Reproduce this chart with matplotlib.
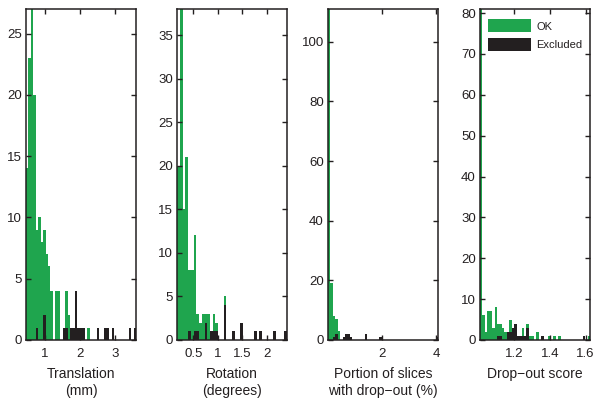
import matplotlib
matplotlib.use('Agg')
import matplotlib.pyplot as plt
import numpy as np

plt.rcParams['font.family'] = ['Liberation Sans', 'DejaVu Sans']

GREEN = '#1fa54e'
BLACK = '#231f20'

# ---- data: histogram counts (all subjects = green, excluded = black overlay) ----
# Translation (mm): 45 bins over data range
trans_range = (0.457, 3.60)
trans_all = [14, 23, 27, 20, 9, 10, 8, 9, 7, 6, 4, 0, 4, 4, 0, 1, 4, 2, 1, 1, 4, 1, 1, 1, 0,
             1, 0, 0, 0, 1, 0, 0, 1, 1, 0, 1, 0, 0, 0, 0, 0, 0, 1, 0, 1]
trans_excl = [0, 0, 0, 0, 1, 0, 0, 2, 0, 0, 0, 0, 0, 0, 0, 1, 1, 0, 1, 1, 4, 1, 1, 1, 0,
              0, 0, 0, 0, 1, 0, 0, 1, 1, 0, 1, 0, 0, 0, 0, 0, 0, 1, 0, 1]
trans_xticks = [1, 2, 3]
trans_yticks = [0, 5, 10, 15, 20, 25]

# Rotation (degrees): 40 bins
rot_range = (0.167, 2.414)
rot_all = [20, 38, 15, 21, 8, 8, 12, 3, 2, 3, 3, 3, 1, 3, 2, 0, 0, 5, 0, 0,
           1, 0, 0, 2, 0, 0, 0, 0, 1, 0, 1, 0, 0, 0, 0, 1, 0, 0, 0, 1]
rot_excl = [0, 0, 0, 0, 1, 0, 1, 1, 0, 0, 2, 0, 1, 1, 1, 0, 0, 4, 0, 0,
            1, 0, 0, 2, 0, 0, 0, 0, 1, 0, 1, 0, 0, 0, 0, 1, 0, 0, 0, 1]
rot_xticks = [0.5, 1, 1.5, 2]
rot_yticks = [0, 5, 10, 15, 20, 25, 30, 35]

# Portion of slices with drop-out (%): 45 bins
drop_range = (0.015, 4.06)
drop_all = [111, 19, 8, 7, 3, 0, 1, 2, 2, 1, 0, 0, 0, 0, 0, 2, 0, 0, 0, 0, 0, 1, 0,
            0, 0, 0, 0, 0, 0, 0, 0, 0, 0, 0, 0, 0, 0, 0, 0, 0, 0, 0, 0, 0, 1]
drop_excl = [0, 0, 1, 2, 0, 0, 1, 2, 2, 1, 0, 0, 0, 0, 0, 2, 0, 0, 0, 0, 0, 1, 0,
             0, 0, 0, 0, 0, 0, 0, 0, 0, 0, 0, 0, 0, 0, 0, 0, 0, 0, 0, 0, 0, 1]
drop_xticks = [2, 4]
drop_yticks = [0, 20, 40, 60, 80, 100]

# Drop-out score: 45 bins
score_range = (1.011, 1.624)
score_all = [81, 6, 2, 7, 7, 3, 8, 4, 4, 3, 2, 2, 5, 3, 4, 1, 1, 3, 1, 4, 1, 1, 0,
             2, 0, 1, 0, 0, 1, 0, 1, 0, 1, 0, 0, 0, 0, 0, 0, 0, 0, 0, 1, 0, 1]
score_excl = [0, 0, 0, 0, 0, 0, 0, 1, 1, 0, 0, 2, 2, 3, 4, 1, 1, 1, 1, 3, 0, 0, 0,
              0, 0, 1, 0, 0, 0, 0, 0, 0, 0, 0, 0, 0, 0, 0, 0, 0, 0, 0, 1, 0, 0]
score_xticks = [1.2, 1.4, 1.6]
score_yticks = [0, 10, 20, 30, 40, 50, 60, 70, 80]

xlabels = ['Translation\n(mm)', 'Rotation\n(degrees)',
           'Portion of slices\nwith drop\u2212out (%)', 'Drop\u2212out score']
legend_labels = ['OK', 'Excluded']

panels = [
    (trans_range, trans_all, trans_excl, trans_xticks, trans_yticks),
    (rot_range, rot_all, rot_excl, rot_xticks, rot_yticks),
    (drop_range, drop_all, drop_excl, drop_xticks, drop_yticks),
    (score_range, score_all, score_excl, score_xticks, score_yticks),
]

W, H = 600, 403
fig = plt.figure(figsize=(W / 100, H / 100), dpi=100)
lefts_px = [26, 177, 328, 480]
ax_w, ax_top, ax_bot = 110, 9, 340

for i, (rng, allc, exc, xt, yt) in enumerate(panels):
    ax = fig.add_axes([lefts_px[i] / W, (H - ax_bot) / H, ax_w / W, (ax_bot - ax_top) / H])
    edges = np.linspace(rng[0], rng[1], len(allc) + 1)
    ax.stairs(allc, edges, fill=True, color=GREEN, linewidth=0, label=legend_labels[0])
    ax.stairs(exc, edges, fill=True, color=BLACK, linewidth=0, label=legend_labels[1])
    ax.set_xlim(rng[0], rng[1])
    ax.set_ylim(0, max(allc))
    ax.set_xticks(xt)
    ax.set_xticklabels([f'{v:g}' for v in xt])
    ax.set_yticks(yt)
    ax.tick_params(direction='in', top=True, right=True, length=3.5, width=1.0,
                   labelsize=9.5, colors=BLACK)
    ax.tick_params(axis='x', pad=5.5)
    ax.tick_params(axis='y', pad=3)
    for s in ax.spines.values():
        s.set_linewidth(1.1)
        s.set_color(BLACK)
    ax.set_xlabel(xlabels[i], fontsize=10, color=BLACK, labelpad=5, linespacing=1.3)
    if i == 3:
        ax.legend(loc='upper left', bbox_to_anchor=(0.07, 0.969), frameon=False,
                  fontsize=8, handlelength=3.9, handleheight=1.45, handletextpad=0.45,
                  labelspacing=0.5, borderpad=0, borderaxespad=0, labelcolor=BLACK)

fig.savefig('out.png', dpi=100)
